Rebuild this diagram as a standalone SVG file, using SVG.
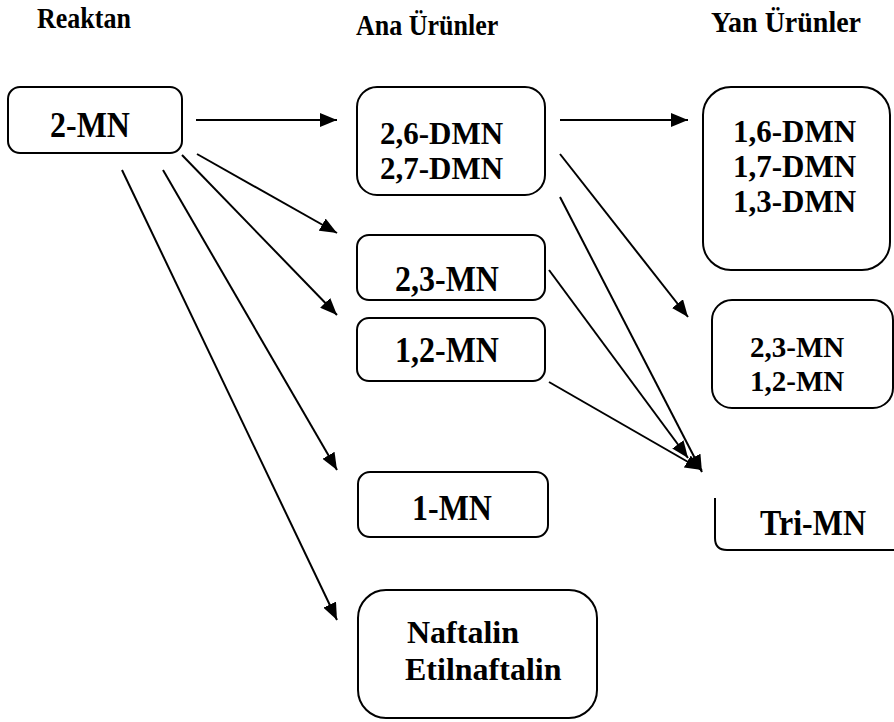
<svg xmlns="http://www.w3.org/2000/svg" width="894" height="722" viewBox="0 0 894 722">
<defs>
<style>
text{font-family:"Liberation Serif","Times New Roman",serif;font-weight:bold;fill:#000}
.h{font-size:26px}
.t{font-size:32px}
.m{font-size:31px}
.s{font-size:29px}
.box{fill:#fff;stroke:#000;stroke-width:2}
.c line{stroke:#000;stroke-width:2}
</style>
<marker id="ah" markerUnits="userSpaceOnUse" markerWidth="17" markerHeight="14" refX="17" refY="7" orient="auto">
<path d="M0,0 L17,7 L0,14 z" fill="#000"/>
</marker>
</defs>
<rect width="894" height="722" fill="#fff"/>
<g id="headers">
<text class="h" transform="translate(37 28) scale(1 1.1)">Reaktan</text>
<text class="h" transform="translate(356 35) scale(1 1.1)">Ana Ürünler</text>
<text class="h" style="font-size:28px" transform="translate(711 32) scale(1 1.05)">Yan Ürünler</text>
</g>
<g id="n-2mn"><rect class="box" x="8" y="87" width="174" height="66" rx="12"/><text class="t" transform="translate(50 137) scale(1 1.12)">2-MN</text></g>
<g id="n-dmn"><rect class="box" x="357" y="87" width="188" height="108" rx="20"/><text class="m" x="380" y="144">2,6-DMN</text><text class="m" x="380" y="179">2,7-DMN</text></g>
<g id="n-23mn"><rect class="box" x="357" y="235" width="188" height="65" rx="12"/><text class="t" transform="translate(395 291) scale(1 1.12)">2,3-MN</text></g>
<g id="n-12mn"><rect class="box" x="357" y="318" width="188" height="63" rx="12"/><text class="t" transform="translate(395 362) scale(1 1.12)">1,2-MN</text></g>
<g id="n-1mn"><rect class="box" x="358" y="472" width="190" height="65" rx="12"/><text class="t" transform="translate(412 520) scale(1 1.12)">1-MN</text></g>
<g id="n-naf"><rect class="box" x="358" y="590" width="239" height="128" rx="28"/><text class="t" x="407" y="643">Naftalin</text><text class="t" x="405" y="680">Etilnaftalin</text></g>
<g id="n-ydmn"><rect class="box" x="703" y="87" width="187" height="183" rx="28"/><text class="m" x="733" y="142">1,6-DMN</text><text class="m" x="733" y="177">1,7-DMN</text><text class="m" x="733" y="212">1,3-DMN</text></g>
<g id="n-ymn"><rect class="box" x="712" y="300" width="181" height="108" rx="20"/><text class="s" x="750" y="357">2,3-MN</text><text class="s" x="750" y="391">1,2-MN</text></g>
<g id="n-tri"><path class="box" d="M715,498 V538 Q715,550 727,550 H900"/><text class="t" transform="translate(760 535) scale(1 1.12)">Tri-MN</text></g>
<g id="connectors" class="c">
<line x1="196" y1="120" x2="337" y2="120" marker-end="url(#ah)"/>
<line x1="197" y1="154" x2="337" y2="233" marker-end="url(#ah)"/>
<line x1="182" y1="155" x2="337" y2="315" marker-end="url(#ah)"/>
<line x1="163" y1="170" x2="337" y2="470" marker-end="url(#ah)"/>
<line x1="122" y1="170" x2="337" y2="620" marker-end="url(#ah)"/>
<line x1="560" y1="120" x2="688" y2="120" marker-end="url(#ah)"/>
<line x1="560" y1="154" x2="688" y2="317" marker-end="url(#ah)"/>
<line x1="560" y1="197" x2="702" y2="472" marker-end="url(#ah)"/>
<line x1="549" y1="270" x2="688" y2="458" marker-end="url(#ah)"/>
<line x1="549" y1="382" x2="702" y2="470" marker-end="url(#ah)"/>
</g>
</svg>
